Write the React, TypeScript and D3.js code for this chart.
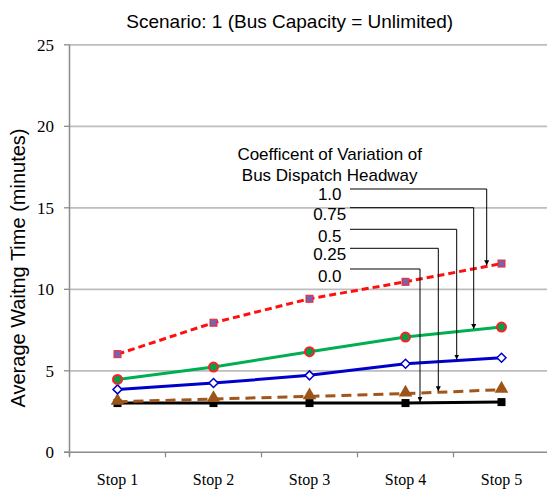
import React from 'react';
import * as d3 from 'd3';

const stops = ['Stop 1', 'Stop 2', 'Stop 3', 'Stop 4', 'Stop 5'];
const cv00 = [3.02, 3.02, 3.02, 3.02, 3.08];
const cv025 = [3.1, 3.27, 3.43, 3.6, 3.84];
const cv05 = [3.86, 4.25, 4.72, 5.43, 5.8];
const cv075 = [4.47, 5.23, 6.17, 7.07, 7.68];
const cv10 = [6.02, 7.95, 9.42, 10.46, 11.58];
const yTicks = [0, 5, 10, 15, 20, 25];
const cvLabels = ['1.0', '0.75', '0.5', '0.25', '0.0'];

const title = 'Scenario: 1 (Bus Capacity = Unlimited)';
const yLabel = 'Average Waitng Time (minutes)';
const annHeader = ['Coefficent of Variation of', 'Bus Dispatch Headway'];

const SANS = '"Liberation Sans", Arial, sans-serif';
const SERIF = '"Liberation Serif", "Times New Roman", serif';

type Series = { label: string; values: number[]; color: string; dash?: string; marker: string };

const series: Series[] = [
  { label: '0.0', values: cv00, color: '#000000', marker: 'square' },
  { label: '0.25', values: cv025, color: '#a0561c', dash: '10,6', marker: 'triangle' },
  { label: '0.5', values: cv05, color: '#0000cc', marker: 'diamond' },
  { label: '0.75', values: cv075, color: '#00b050', marker: 'circle' },
  { label: '1.0', values: cv10, color: '#ff1010', dash: '7,4', marker: 'squarex' },
];

// annotation layout (label baseline y, horizontal line y, arrow x)
const annLayout: Record<string, { ty: number; ly: number; ax: number }> = {
  '1.0': { ty: 200, ly: 189, ax: 486.7 },
  '0.75': { ty: 220, ly: 207.7, ax: 473.7 },
  '0.5': { ty: 241.7, ly: 229.3, ax: 456.7 },
  '0.25': { ty: 260, ly: 248.3, ax: 438.3 },
  '0.0': { ty: 281.7, ly: 269, ax: 420 },
};

export default function App() {
  const W = 547, H = 490;
  const x = d3.scaleBand<string>().domain(stops).range([69.5, 549.5]).padding(0);
  const y = d3.scaleLinear().domain([0, 25]).range([452.3, 44.8]);
  const cx = (s: string) => (x(s) as number) + x.bandwidth() / 2;
  const line = d3.line<number>().x((_, i) => cx(stops[i])).y((v) => y(v));

  const interpY = (vals: number[], px: number) => {
    const xs = stops.map(cx);
    for (let i = 0; i < xs.length - 1; i++) {
      if (px >= xs[i] && px <= xs[i + 1]) {
        const t = (px - xs[i]) / (xs[i + 1] - xs[i]);
        return y(vals[i] + t * (vals[i + 1] - vals[i]));
      }
    }
    return y(vals[vals.length - 1]);
  };

  const marker = (m: string, px: number, py: number, key: string) => {
    if (m === 'square') return <rect key={key} x={px - 4} y={py - 4} width={8} height={8} fill="#000" />;
    if (m === 'triangle') {
      const p = d3.symbol().type(d3.symbolTriangle).size(80)() as string;
      return <path key={key} d={p} transform={`translate(${px},${py - 1})`} fill="#9c5518" />;
    }
    if (m === 'diamond')
      return (
        <path key={key} d={`M${px},${py - 4.5}L${px + 4.5},${py}L${px},${py + 4.5}L${px - 4.5},${py}Z`} fill="#fff" stroke="#0000cc" strokeWidth={1.5} />
      );
    if (m === 'circle') return <circle key={key} cx={px} cy={py} r={4.5} fill="#00a050" stroke="#ff2020" strokeWidth={2} />;
    return (
      <g key={key}>
        <rect x={px - 3.5} y={py - 3.5} width={7} height={7} fill="#b04c80" stroke="#ff2020" strokeWidth={1} />
        <path d={`M${px - 3},${py - 3}L${px + 3},${py + 3}M${px + 3},${py - 3}L${px - 3},${py + 3}`} stroke="#5a70c8" strokeWidth={1.5} />
      </g>
    );
  };

  return (
    <svg width={W} height={H} style={{ position: 'absolute', left: 0, top: 0, background: '#fff' }}>
      <defs>
        <marker id="arr" viewBox="0 0 10 10" refX="10" refY="5" markerWidth="5" markerHeight="5" orient="auto">
          <path d="M0,0L10,5L0,10Z" fill="#000" />
        </marker>
      </defs>
      <rect width={W} height={H} fill="#fff" />
      <text x={289.7} y={27.5} textAnchor="middle" fontFamily={SANS} fontSize={19} fill="#000">{title}</text>

      {yTicks.map((t) => (
        <g key={t}>
          {t > 0 && <line x1={69.5} x2={547} y1={y(t)} y2={y(t)} stroke="#bdbdbd" strokeWidth={1.8} />}
          <line x1={64} x2={69.5} y1={y(t)} y2={y(t)} stroke="#8c8c8c" strokeWidth={1.3} />
          <text x={54} y={y(t) + 6} textAnchor="end" fontFamily={SERIF} fontSize={17} fill="#000">{t}</text>
        </g>
      ))}
      <line x1={69.5} x2={69.5} y1={y(25)} y2={y(0) + 4} stroke="#8c8c8c" strokeWidth={1.5} />
      <line x1={64} x2={547} y1={y(0)} y2={y(0)} stroke="#8c8c8c" strokeWidth={1.5} />
      {stops.map((s) => (
        <g key={s}>
          <line x1={x(s) as number} x2={x(s) as number} y1={y(0)} y2={y(0) + 5} stroke="#8c8c8c" strokeWidth={1.3} />
          <text x={cx(s)} y={485} textAnchor="middle" fontFamily={SERIF} fontSize={16} fill="#000">{s}</text>
        </g>
      ))}

      <text transform={`translate(24.5,268) rotate(-90)`} textAnchor="middle" fontFamily={SANS} fontSize={20} fill="#000">{yLabel}</text>

      {series.map((s) => (
        <path key={s.label} d={line(s.values) as string} fill="none" stroke={s.color} strokeWidth={3} strokeDasharray={s.dash} />
      ))}
      {series.map((s) => s.values.map((v, i) => marker(s.marker, cx(stops[i]), y(v), s.label + i)))}

      <text x={329.7} y={160} textAnchor="middle" fontFamily={SANS} fontSize={17} fill="#000">{annHeader[0]}</text>
      <text x={329.7} y={180.7} textAnchor="middle" fontFamily={SANS} fontSize={17} fill="#000">{annHeader[1]}</text>
      {cvLabels.map((lab) => {
        const L = annLayout[lab];
        const s = series.find((q) => q.label === lab) as Series;
        const ty = interpY(s.values, L.ax) - 1;
        return (
          <g key={lab}>
            <text x={329.7} y={L.ty} textAnchor="middle" fontFamily={SANS} fontSize={17} fill="#000">{lab}</text>
            <path d={`M350,${L.ly}H${L.ax}V${ty}`} fill="none" stroke="#000" strokeWidth={1} markerEnd="url(#arr)" />
          </g>
        );
      })}
    </svg>
  );
}
